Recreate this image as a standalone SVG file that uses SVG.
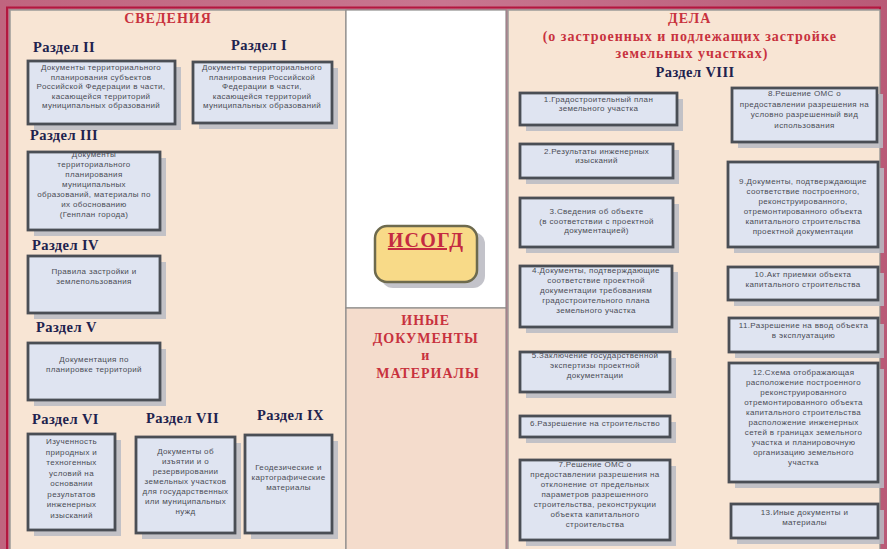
<svg xmlns="http://www.w3.org/2000/svg" width="887" height="549" viewBox="0 0 887 549">
  <defs>
    <style>
      .panel { fill: #f8e5d4; stroke: #9c9a98; stroke-width: 1.5; }
      .box { fill: #dfe4f1; stroke: #4a4e55; stroke-width: 2.8; }
      .shadow { fill: #b9bbc3; opacity: 0.85; }
      .head { font-family: "Liberation Serif", serif; font-weight: bold; font-size: 14.5px; letter-spacing: 0.4px; fill: #20224e; }
      .title { font-family: "Liberation Serif", serif; font-weight: bold; font-size: 14px; letter-spacing: 1px; fill: #c8323e; text-anchor: middle; }
      .t { font-family: "Liberation Sans", Arial, sans-serif; font-size: 8px; letter-spacing: 0.35px; fill: #4a4c55; text-anchor: middle; }
    </style>
    <linearGradient id="frameGrad" x1="0" y1="0" x2="1" y2="0">
      <stop offset="0" stop-color="#c0657f"/>
      <stop offset="0.5" stop-color="#c87690"/>
      <stop offset="1" stop-color="#b95a77"/>
    </linearGradient>
  </defs>

  <!-- outer frame -->
  <rect x="0" y="0" width="887" height="549" fill="url(#frameGrad)"/>
  <rect x="7" y="7.5" width="873" height="545" fill="none" stroke="#b3173f" stroke-width="2"/>

  <!-- left panel: СВЕДЕНИЯ -->
  <g id="panel-svedeniya">
    <rect class="panel" x="10" y="10" width="336" height="545"/>
    <text class="title" x="168" y="23">СВЕДЕНИЯ</text>
  </g>

  <!-- centre column -->
  <g id="panel-centre">
    <rect x="346" y="10" width="160" height="298" fill="#ffffff" stroke="#8e8c8a" stroke-width="1.2"/>
    <rect x="346" y="308" width="160" height="245" fill="#f4dccc" stroke="#8e8c8a" stroke-width="1.2"/>
    <text class="title" font-size="12.5px" letter-spacing="0.3px">
      <tspan x="428" y="325">ИНЫЕ</tspan>
      <tspan x="428" y="343">ДОКУМЕНТЫ</tspan>
      <tspan x="428" y="360">и</tspan>
      <tspan x="428" y="378">МАТЕРИАЛЫ</tspan>
    </text>
  </g>

  <!-- right panel: ДЕЛА -->
  <g id="panel-dela">
    <rect class="panel" x="508" y="10" width="372" height="545"/>
    <text class="title">
      <tspan x="692" y="23">ДЕЛА</tspan>
      <tspan x="692" y="41">(о застроенных и подлежащих застройке</tspan>
      <tspan x="692" y="58">земельных участках)</tspan>
    </text>
    <text class="head" x="695" y="77" text-anchor="middle">Раздел VIII</text>
  </g>

  <!-- ИСОГД -->
  <g id="isogd">
    <rect x="381" y="232" width="104" height="56" rx="12" fill="#bdbdc4" opacity="0.9"/>
    <rect x="375" y="226" width="102" height="56" rx="12" fill="#f8da88" stroke="#6d6a4e" stroke-width="2.5"/>
    <text x="426" y="247" font-family="Liberation Serif, serif" font-weight="bold" font-size="20px" letter-spacing="1.2px" fill="#c42a42" text-anchor="middle" text-decoration="underline">ИСОГД</text>
  </g>

  <!-- Раздел II -->
  <g id="razdel-2">
    <text class="head" x="33" y="52">Раздел II</text>
    <rect class="shadow" x="34" y="67" width="147" height="63"/>
    <rect class="box" x="28" y="61" width="147" height="63"/>
    <text class="t"><tspan x="101" y="70">Документы территориального</tspan><tspan x="101" y="79.5">планирования субъектов</tspan><tspan x="101" y="89">Российской Федерации в части,</tspan><tspan x="101" y="98.5">касающейся территорий</tspan><tspan x="101" y="108">муниципальных образований</tspan></text>
  </g>

  <!-- Раздел I -->
  <g id="razdel-1">
    <text class="head" x="231" y="50">Раздел I</text>
    <rect class="shadow" x="199" y="68" width="139" height="61"/>
    <rect class="box" x="193" y="62" width="139" height="61"/>
    <text class="t"><tspan x="262" y="70">Документы территориального</tspan><tspan x="262" y="79.5">планирования Российской</tspan><tspan x="262" y="89">Федерации в части,</tspan><tspan x="262" y="98.5">касающейся территорий</tspan><tspan x="262" y="108">муниципальных образований</tspan></text>
  </g>

  <!-- Раздел III -->
  <g id="razdel-3">
    <text class="head" x="30" y="140">Раздел III</text>
    <rect class="shadow" x="34" y="158" width="132" height="78"/>
    <rect class="box" x="28" y="152" width="132" height="78"/>
    <text class="t"><tspan x="94" y="157">Документы</tspan><tspan x="94" y="167">территориального</tspan><tspan x="94" y="177">планирования</tspan><tspan x="94" y="187">муниципальных</tspan><tspan x="94" y="197">образований, материалы по</tspan><tspan x="94" y="207">их обоснованию</tspan><tspan x="94" y="217">(Генплан города)</tspan></text>
  </g>

  <!-- Раздел IV -->
  <g id="razdel-4">
    <text class="head" x="32" y="250">Раздел IV</text>
    <rect class="shadow" x="34" y="262" width="132" height="57"/>
    <rect class="box" x="28" y="256" width="132" height="57"/>
    <text class="t"><tspan x="94" y="274">Правила застройки и</tspan><tspan x="94" y="284">землепользования</tspan></text>
  </g>

  <!-- Раздел V -->
  <g id="razdel-5">
    <text class="head" x="36" y="332">Раздел V</text>
    <rect class="shadow" x="34" y="349" width="132" height="57"/>
    <rect class="box" x="28" y="343" width="132" height="57"/>
    <text class="t"><tspan x="94" y="362">Документация по</tspan><tspan x="94" y="372">планировке территорий</tspan></text>
  </g>

  <!-- Раздел VI -->
  <g id="razdel-6">
    <text class="head" x="32" y="424">Раздел VI</text>
    <rect class="shadow" x="34" y="440" width="87" height="96"/>
    <rect class="box" x="28" y="434" width="87" height="96"/>
    <text class="t"><tspan x="71.5" y="444">Изученность</tspan><tspan x="71.5" y="454.5">природных и</tspan><tspan x="71.5" y="465">техногенных</tspan><tspan x="71.5" y="475.5">условий на</tspan><tspan x="71.5" y="486">основании</tspan><tspan x="71.5" y="496.5">результатов</tspan><tspan x="71.5" y="507">инженерных</tspan><tspan x="71.5" y="517.5">изысканий</tspan></text>
  </g>

  <!-- Раздел VII -->
  <g id="razdel-7">
    <text class="head" x="146" y="423">Раздел VII</text>
    <rect class="shadow" x="142" y="443" width="99" height="96"/>
    <rect class="box" x="136" y="437" width="99" height="96"/>
    <text class="t" letter-spacing="0.1px"><tspan x="185.5" y="454">Документы об</tspan><tspan x="185.5" y="464">изъятии и о</tspan><tspan x="185.5" y="474">резервировании</tspan><tspan x="185.5" y="484">земельных участков</tspan><tspan x="185.5" y="494">для государственных</tspan><tspan x="185.5" y="504">или муниципальных</tspan><tspan x="185.5" y="514">нужд</tspan></text>
  </g>

  <!-- Раздел IX -->
  <g id="razdel-9">
    <text class="head" x="257" y="420">Раздел IX</text>
    <rect class="shadow" x="251" y="441" width="87" height="98"/>
    <rect class="box" x="245" y="435" width="87" height="98"/>
    <text class="t" letter-spacing="0.1px"><tspan x="288.5" y="470">Геодезические и</tspan><tspan x="288.5" y="480">картографические</tspan><tspan x="288.5" y="490">материалы</tspan></text>
  </g>

  <!-- Раздел VIII, left column -->
  <g id="dela-1">
    <rect class="shadow" x="526" y="99" width="157" height="32"/>
    <rect class="box" x="520" y="93" width="157" height="32"/>
    <text class="t"><tspan x="598.5" y="102">1.Градостроительный план</tspan><tspan x="598.5" y="111">земельного участка</tspan></text>
  </g>
  <g id="dela-2">
    <rect class="shadow" x="526" y="150" width="153" height="34"/>
    <rect class="box" x="520" y="144" width="153" height="34"/>
    <text class="t"><tspan x="596.5" y="154">2.Результаты инженерных</tspan><tspan x="596.5" y="163">изысканий</tspan></text>
  </g>
  <g id="dela-3">
    <rect class="shadow" x="526" y="204" width="153" height="49"/>
    <rect class="box" x="520" y="198" width="153" height="49"/>
    <text class="t"><tspan x="596.5" y="214">3.Сведения об объекте</tspan><tspan x="596.5" y="223.5">(в соответствии с проектной</tspan><tspan x="596.5" y="233">документацией)</tspan></text>
  </g>
  <g id="dela-4">
    <rect class="shadow" x="526" y="272" width="152" height="61"/>
    <rect class="box" x="520" y="266" width="152" height="61"/>
    <text class="t" letter-spacing="0.2px"><tspan x="596" y="273">4.Документы, подтверждающие</tspan><tspan x="596" y="283">соответствие проектной</tspan><tspan x="596" y="293">документации требованиям</tspan><tspan x="596" y="303">градостроительного плана</tspan><tspan x="596" y="313">земельного участка</tspan></text>
  </g>
  <g id="dela-5">
    <rect class="shadow" x="526" y="358" width="150" height="40"/>
    <rect class="box" x="520" y="352" width="150" height="40"/>
    <text class="t" letter-spacing="0.2px"><tspan x="595" y="358">5.Заключение государственной</tspan><tspan x="595" y="368">экспертизы проектной</tspan><tspan x="595" y="378">документации</tspan></text>
  </g>
  <g id="dela-6">
    <rect class="shadow" x="526" y="422" width="150" height="21"/>
    <rect class="box" x="520" y="416" width="150" height="21"/>
    <text class="t" letter-spacing="0.2px" x="595" y="426">6.Разрешение на строительство</text>
  </g>
  <g id="dela-7">
    <rect class="shadow" x="526" y="466" width="150" height="80"/>
    <rect class="box" x="520" y="460" width="150" height="80"/>
    <text class="t" letter-spacing="0.2px"><tspan x="595" y="467">7.Решение ОМС о</tspan><tspan x="595" y="477">предоставлении разрешения на</tspan><tspan x="595" y="487">отклонение от предельных</tspan><tspan x="595" y="497">параметров разрешенного</tspan><tspan x="595" y="507">строительства, реконструкции</tspan><tspan x="595" y="517">объекта капитального</tspan><tspan x="595" y="527">строительства</tspan></text>
  </g>

  <!-- Раздел VIII, right column -->
  <g id="dela-8">
    <rect class="shadow" x="738" y="94" width="145" height="54"/>
    <rect class="box" x="732" y="88" width="145" height="54"/>
    <text class="t" letter-spacing="0.2px"><tspan x="804.5" y="96">8.Решение ОМС о</tspan><tspan x="804.5" y="106.5">предоставлении разрешения на</tspan><tspan x="804.5" y="117">условно разрешенный вид</tspan><tspan x="804.5" y="127.5">использования</tspan></text>
  </g>
  <g id="dela-9">
    <rect class="shadow" x="734" y="168" width="150" height="85"/>
    <rect class="box" x="728" y="162" width="150" height="85"/>
    <text class="t" letter-spacing="0.2px"><tspan x="803" y="184">9.Документы, подтверждающие</tspan><tspan x="803" y="194">соответствие построенного,</tspan><tspan x="803" y="204">реконструированного,</tspan><tspan x="803" y="214">отремонтированного объекта</tspan><tspan x="803" y="224">капитального строительства</tspan><tspan x="803" y="234">проектной документации</tspan></text>
  </g>
  <g id="dela-10">
    <rect class="shadow" x="734" y="273" width="150" height="33"/>
    <rect class="box" x="728" y="267" width="150" height="33"/>
    <text class="t"><tspan x="803" y="277">10.Акт приемки объекта</tspan><tspan x="803" y="287">капитального строительства</tspan></text>
  </g>
  <g id="dela-11">
    <rect class="shadow" x="735" y="324" width="149" height="34"/>
    <rect class="box" x="729" y="318" width="149" height="34"/>
    <text class="t" letter-spacing="0.1px"><tspan x="803.5" y="328">11.Разрешение на ввод объекта</tspan><tspan x="803.5" y="338">в эксплуатацию</tspan></text>
  </g>
  <g id="dela-12">
    <rect class="shadow" x="735" y="369" width="149" height="119"/>
    <rect class="box" x="729" y="363" width="149" height="119"/>
    <text class="t" letter-spacing="0.2px"><tspan x="803.5" y="375">12.Схема отображающая</tspan><tspan x="803.5" y="385">расположение построенного</tspan><tspan x="803.5" y="395">реконструированного</tspan><tspan x="803.5" y="405">отремонтированного объекта</tspan><tspan x="803.5" y="415">капитального строительства</tspan><tspan x="803.5" y="425">расположение инженерных</tspan><tspan x="803.5" y="435">сетей в границах земельного</tspan><tspan x="803.5" y="445">участка и планировочную</tspan><tspan x="803.5" y="455">организацию земельного</tspan><tspan x="803.5" y="465">участка</tspan></text>
  </g>
  <g id="dela-13">
    <rect class="shadow" x="737" y="510" width="147" height="34"/>
    <rect class="box" x="731" y="504" width="147" height="34"/>
    <text class="t"><tspan x="804.5" y="515">13.Иные документы и</tspan><tspan x="804.5" y="525">материалы</tspan></text>
  </g>

  <!-- this scheme has no connectors -->
  <g id="connectors"/>
</svg>
